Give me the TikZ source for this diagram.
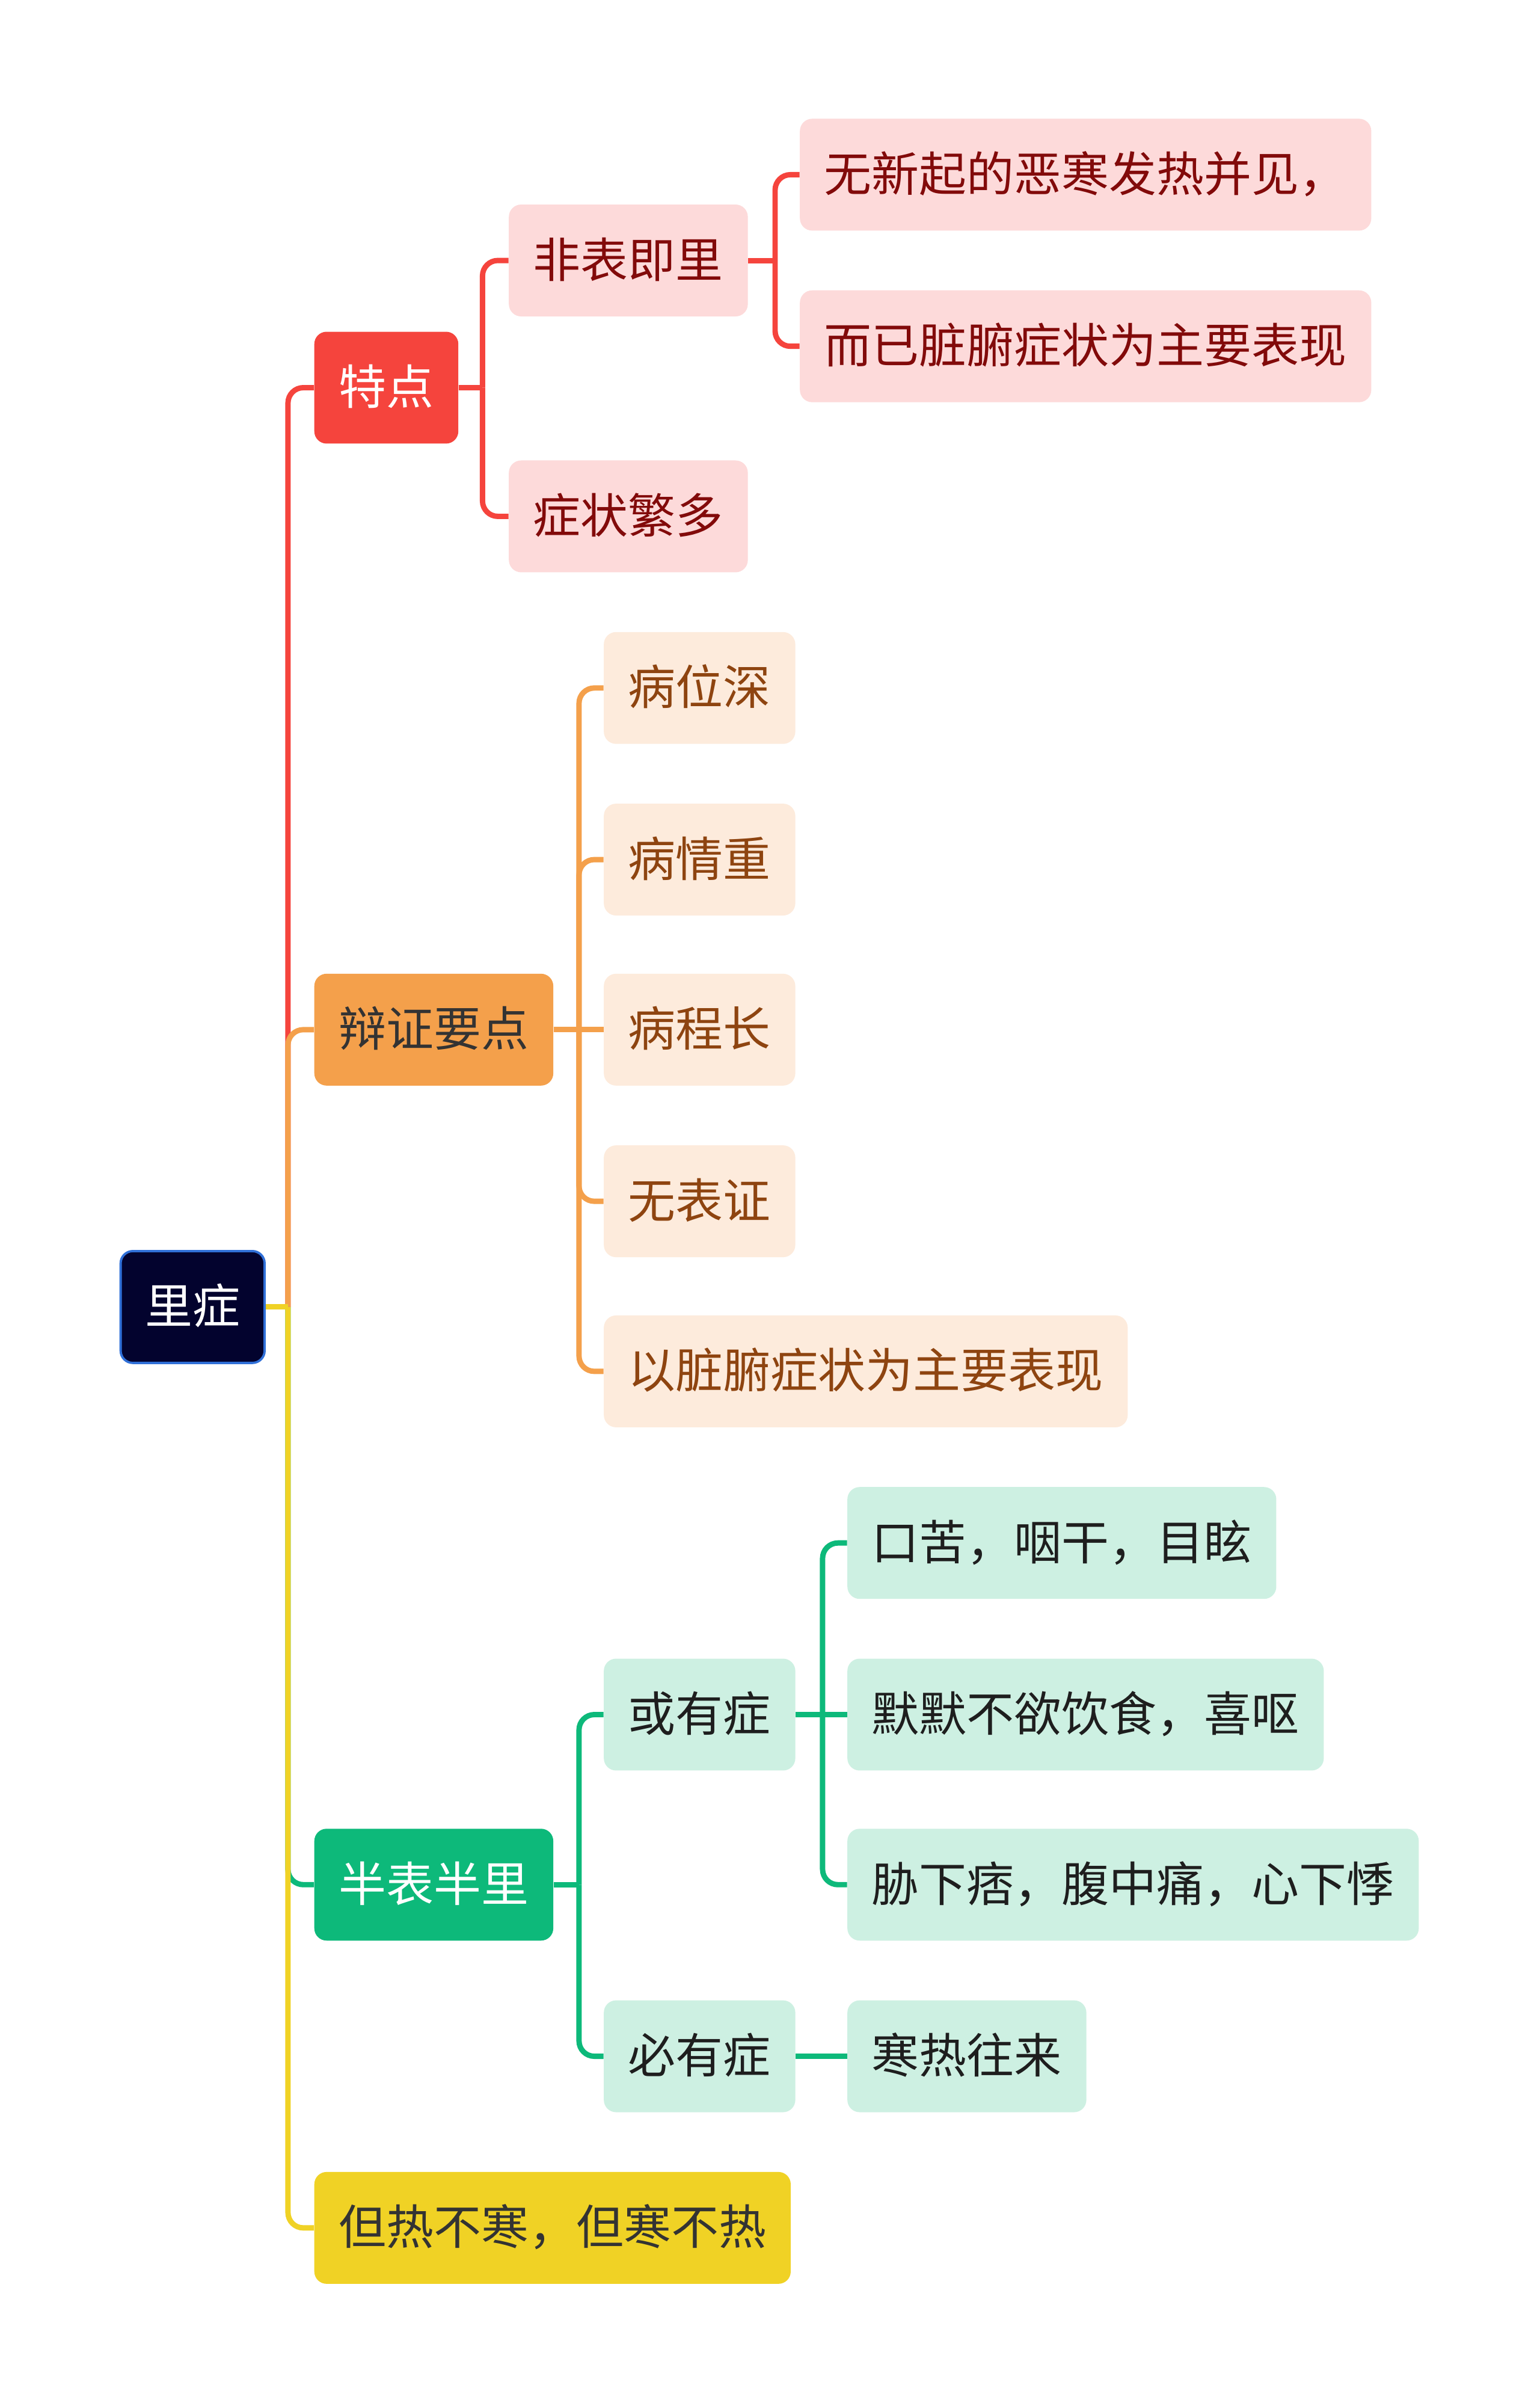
\documentclass[tikz,border=0pt]{standalone}
\usepackage{fontspec}
\setmainfont{Noto Sans CJK SC}
\usetikzlibrary{calc,backgrounds}
\definecolor{cred}{HTML}{F5443D}
\definecolor{credl}{HTML}{FDDADA}
\definecolor{credt}{HTML}{820A0A}
\definecolor{corg}{HTML}{F4A04B}
\definecolor{corgl}{HTML}{FDEBDC}
\definecolor{corgt}{HTML}{8E4410}
\definecolor{cgrn}{HTML}{0DB97A}
\definecolor{cgrnl}{HTML}{CDF0E2}
\definecolor{cgrnt}{HTML}{1E1E1E}
\definecolor{cyel}{HTML}{F0D225}
\definecolor{cyelt}{HTML}{333333}
\definecolor{croot}{HTML}{03032E}
\definecolor{crootb}{HTML}{3070D8}
\begin{document}
\begin{tikzpicture}[x=1pt,y=-1pt,
  font=\fontsize{31}{36}\selectfont,
  box/.style={rounded corners=8pt, minimum height=73pt, inner xsep=16pt, inner ysep=0pt,
    text height=27pt, text depth=5pt, anchor=west},
  rootbox/.style={box, fill=croot, draw=crootb, line width=1.5pt, text=white},
  redmain/.style={box, fill=cred, text=white},
  redsub/.style={box, fill=credl, text=credt},
  orgmain/.style={box, fill=corg, text=cyelt},
  orgsub/.style={box, fill=corgl, text=corgt},
  grnmain/.style={box, fill=cgrn, text=white},
  grnsub/.style={box, fill=cgrnl, text=cgrnt},
  yelmain/.style={box, fill=cyel, text=cyelt},
  conn/.style={line width=3.5pt, rounded corners=10pt}
]
\useasboundingbox (0,0) rectangle (1005,1568.3);

% nodes
\node[rootbox] (root) at (78,853) {里症};

\node[redmain] (n1) at (205,253) {特点};
\node[redsub] (n11) at (332,170) {非表即里};
\node[redsub] (n111) at (522,114) {无新起的恶寒发热并见，};
\node[redsub] (n112) at (522,226) {而已脏腑症状为主要表现};
\node[redsub] (n12) at (332,337) {症状繁多};

\node[orgmain] (n2) at (205,672) {辩证要点};
\node[orgsub] (n21) at (394,449) {病位深};
\node[orgsub] (n22) at (394,561) {病情重};
\node[orgsub] (n23) at (394,672) {病程长};
\node[orgsub] (n24) at (394,784) {无表证};
\node[orgsub] (n25) at (394,895) {以脏腑症状为主要表现};

\node[grnmain] (n3) at (205,1230) {半表半里};
\node[grnsub] (n31) at (394,1119) {或有症};
\node[grnsub] (n311) at (553,1007) {口苦，咽干，目眩};
\node[grnsub] (n312) at (553,1119) {默默不欲饮食，喜呕};
\node[grnsub] (n313) at (553,1230) {胁下痞，腹中痛，心下悸};
\node[grnsub] (n32) at (394,1342) {必有症};
\node[grnsub] (n321) at (553,1342) {寒热往来};

\node[yelmain] (n4) at (205,1454) {但热不寒，但寒不热};

\begin{pgfonlayer}{background}
  \fill[white] (0,0) rectangle (1005,1568.3);
  \coordinate (t0) at (188,853);
  \draw[conn, cred] (t0) |- (n1.west);
  \draw[conn, corg] (t0) |- (n2.west);
  \draw[conn, cgrn] (t0) |- (n3.west);
  \draw[conn, cyel] (t0) |- (n4.west);
  \draw[conn, cyel] (root.east) -- (t0);

  % 特点
  \coordinate (t1) at (315,253);
  \draw[conn, cred] (n1.east) -- (t1);
  \draw[conn, cred] (t1) |- (n11.west);
  \draw[conn, cred] (t1) |- (n12.west);
  \coordinate (t11) at (506,170);
  \draw[conn, cred] (n11.east) -- (t11);
  \draw[conn, cred] (t11) |- (n111.west);
  \draw[conn, cred] (t11) |- (n112.west);

  % 辩证要点
  \coordinate (t2) at (378,672);
  \draw[conn, corg] (n2.east) -- (n23.west);
  \draw[conn, corg] (t2) |- (n21.west);
  \draw[conn, corg] (t2) |- (n22.west);
  \draw[conn, corg] (t2) |- (n24.west);
  \draw[conn, corg] (t2) |- (n25.west);

  % 半表半里
  \coordinate (t3) at (378,1230);
  \draw[conn, cgrn] (n3.east) -- (t3);
  \draw[conn, cgrn] (t3) |- (n31.west);
  \draw[conn, cgrn] (t3) |- (n32.west);
  \coordinate (t31) at (537,1119);
  \draw[conn, cgrn] (n31.east) -- (n312.west);
  \draw[conn, cgrn] (t31) |- (n311.west);
  \draw[conn, cgrn] (t31) |- (n313.west);
  \draw[conn, cgrn] (n32.east) -- (n321.west);
\end{pgfonlayer}
\end{tikzpicture}
\end{document}
